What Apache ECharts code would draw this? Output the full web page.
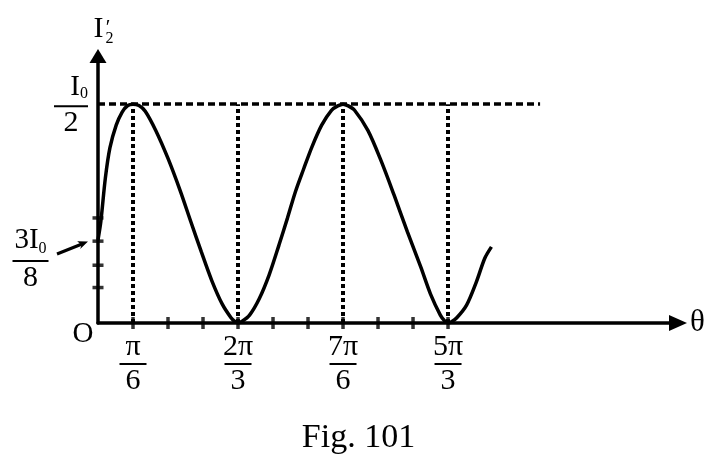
<!DOCTYPE html>
<html><head><meta charset="utf-8">
<script src="https://cdn.jsdelivr.net/npm/echarts@6/dist/echarts.min.js"></script>
<style>html,body{margin:0;padding:0;background:#fff}#c{width:713px;height:470px}</style>
</head><body><div id="c"></div>
<script>
// theta in units of pi/6, current in units of I0
const thetaValues = [0, 0.08, 0.21, 0.34, 0.52, 0.69, 0.85, 1.0, 1.17, 1.35, 1.65, 2.0, 2.35, 2.65, 2.95, 3.25, 3.55, 3.8, 3.9, 4.0,
  4.12, 4.33, 4.61, 4.89, 5.17, 5.41, 5.64, 5.88, 6.11, 6.39, 6.67, 6.85, 7.0, 7.15, 7.33, 7.71, 8.08, 8.46, 8.84, 9.22, 9.5, 9.78, 9.9, 10.0,
  10.1, 10.25, 10.53, 10.81, 11.05, 11.24];
const currentValues = [0.19, 0.231, 0.331, 0.4, 0.452, 0.482, 0.497, 0.5, 0.497, 0.484, 0.44, 0.376, 0.302, 0.232, 0.163, 0.097, 0.043, 0.012, 0.004, 0,
  0.004, 0.018, 0.056, 0.11, 0.178, 0.239, 0.3, 0.353, 0.402, 0.452, 0.486, 0.496, 0.5, 0.496, 0.486, 0.44, 0.372, 0.292, 0.208, 0.128, 0.066, 0.018, 0.005, 0,
  0.003, 0.012, 0.041, 0.094, 0.148, 0.174];
const xTickPositions = [1, 2, 3, 4, 5, 6, 7, 8, 9, 10];
const yTickValues = [0.081, 0.132, 0.187, 0.240];
const xTickLabels = {1: ['π', '6'], 4: ['2π', '3'], 7: ['7π', '6'], 10: ['5π', '3']};
const guideX = [1, 4, 7, 10];
const peakValue = 0.5;
const guideEndX = 12.63;

const FONT = '"Liberation Serif", "Times New Roman", serif';
const chart = echarts.init(document.getElementById('c'), null, {renderer: 'canvas'});

const fracRich = {
  n: {fontFamily: FONT, fontSize: 30, lineHeight: 26, align: 'center', color: '#000'},
  bar: {width: 27, height: 2, lineHeight: 8, backgroundColor: '#000', align: 'center'},
  d: {fontFamily: FONT, fontSize: 30, lineHeight: 27, align: 'center', color: '#000'}
};
const yRich = {
  I: {fontFamily: FONT, fontSize: 29, lineHeight: 26, verticalAlign: 'bottom', color: '#000'},
  s: {fontFamily: FONT, fontSize: 16, lineHeight: 14, verticalAlign: 'bottom', color: '#000'},
  L: {lineHeight: 30},
  bar: {width: 34, height: 2, lineHeight: 8, backgroundColor: '#000', align: 'center'},
  d: {fontFamily: FONT, fontSize: 30, lineHeight: 26, align: 'center', color: '#000'}
};

const curve = thetaValues.map((t, i) => [t, currentValues[i]]);
const vDash = {color: '#000', width: 4, type: [4, 3]};
const hDash = {color: '#000', width: 3.5, type: [7, 4]};

chart.setOption({
  animation: false,
  grid: {left: 98, right: 35, top: 56, bottom: 147, containLabel: false},
  xAxis: {
    type: 'value', min: 0, max: 16.57, interval: 1,
    axisLine: {show: true, onZero: false, symbol: ['none', 'triangle'], symbolSize: [16, 18], lineStyle: {color: '#000', width: 3.5}},
    axisTick: {show: false}, splitLine: {show: false},
    axisLabel: {
      margin: 11, showMaxLabel: false,
      formatter: v => xTickLabels[v] ? '{n|' + xTickLabels[v][0] + '}\n{bar|}\n{d|' + xTickLabels[v][1] + '}' : '',
      rich: fracRich
    }
  },
  yAxis: {
    type: 'value', min: 0, max: 0.61, interval: 0.5,
    axisLine: {show: true, onZero: false, symbol: ['none', 'triangle'], symbolSize: [17, 14], lineStyle: {color: '#000', width: 3.5}},
    axisTick: {show: false}, splitLine: {show: false},
    axisLabel: {
      margin: 10, showMaxLabel: false,
      formatter: v => v === peakValue ? '{I|I}{s|0}{L|}\n{bar|}\n{d|2}' : '',
      rich: yRich
    }
  },
  series: [
    {
      type: 'line', data: curve, smooth: 0.3, symbol: 'none', silent: true,
      lineStyle: {color: '#000', width: 3.5}, z: 3,
      markLine: {
        silent: true, symbol: ['none', 'none'], label: {show: false}, animation: false,
        data: guideX.map(u => [{coord: [u, 0], lineStyle: vDash}, {coord: [u, peakValue]}])
          .concat([[{coord: [0, peakValue], lineStyle: hDash}, {coord: [guideEndX, peakValue]}]])
      }
    },
    {
      type: 'scatter', data: xTickPositions.map(u => [u, 0]), symbol: 'rect', symbolSize: [3.5, 12],
      itemStyle: {color: '#000'}, silent: true, clip: false, z: 4
    },
    {
      type: 'scatter', data: yTickValues.map(v => [0, v]), symbol: 'rect', symbolSize: [11, 3.5],
      itemStyle: {color: '#000'}, silent: true, clip: false, z: 4
    }
  ],
  graphic: [
    {type: 'text', x: 98.5, y: 29.5, style: {text: 'I', font: '30px ' + FONT, fill: '#000', align: 'center', verticalAlign: 'middle'}},
    {type: 'text', x: 108, y: 28, style: {text: '′', font: '21px ' + FONT, fill: '#000', align: 'center', verticalAlign: 'middle'}},
    {type: 'text', x: 109.5, y: 38.5, style: {text: '2', font: '16px ' + FONT, fill: '#000', align: 'center', verticalAlign: 'middle'}},
    {type: 'text', x: 83, y: 334, style: {text: 'O', font: '29px ' + FONT, fill: '#000', align: 'center', verticalAlign: 'middle'}},
    {type: 'text', x: 697.5, y: 322.5, style: {text: 'θ', font: '31px ' + FONT, fill: '#000', align: 'center', verticalAlign: 'middle'}},
    {type: 'text', x: 358.5, y: 438, style: {text: 'Fig. 101', font: '34px ' + FONT, fill: '#000', align: 'center', verticalAlign: 'middle'}},
    {type: 'text', x: 30.5, y: 223, style: {
      text: '{a|3I}{s|0}{L|}\n{bar|}\n{d|8}', align: 'center', verticalAlign: 'top',
      rich: {
        a: {fontFamily: FONT, fontSize: 29, lineHeight: 34, color: '#000'},
        s: {fontFamily: FONT, fontSize: 16, lineHeight: 24, verticalAlign: 'bottom', color: '#000'},
        L: {lineHeight: 34},
        bar: {width: 36, height: 2, lineHeight: 8, backgroundColor: '#000', align: 'center'},
        d: {fontFamily: FONT, fontSize: 30, lineHeight: 26, align: 'center', color: '#000'}
      }
    }},
    {type: 'line', shape: {x1: 57, y1: 254, x2: 82, y2: 244}, style: {stroke: '#000', lineWidth: 3}},
    {type: 'polygon', shape: {points: [[88, 241.5], [80.2, 249], [81.5, 245], [77.2, 241.3]]}, style: {fill: '#000'}}
  ]
});
</script></body></html>
